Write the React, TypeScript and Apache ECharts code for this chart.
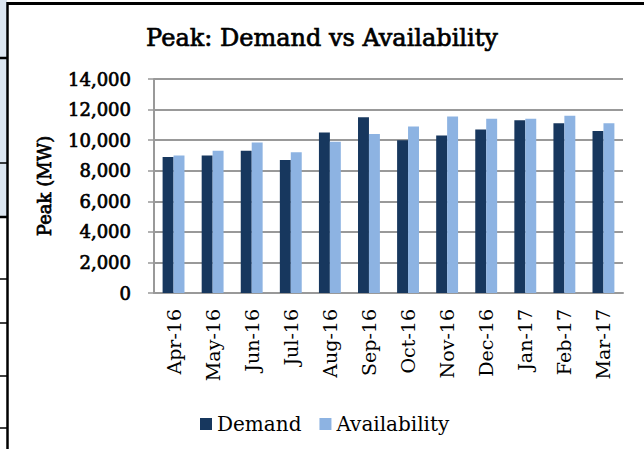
import React, { useEffect, useRef } from "react";
import * as echarts from "echarts";

const categories = ["Apr-16", "May-16", "Jun-16", "Jul-16", "Aug-16", "Sep-16", "Oct-16", "Nov-16", "Dec-16", "Jan-17", "Feb-17", "Mar-17"];
const demand = [8900, 9000, 9300, 8700, 10500, 11500, 10000, 10300, 10700, 11300, 11100, 10600];
const availability = [9000, 9300, 9850, 9200, 9900, 10400, 10900, 11550, 11400, 11400, 11600, 11100];
const yTicks = { min: 0, max: 14000, interval: 2000 };

const FONT = "DejaVu Serif";
const fauxBold = { textBorderColor: "#000", textBorderWidth: 0.7 };

export default function App() {
  const ref = useRef<HTMLDivElement>(null);
  useEffect(() => {
    const chart = echarts.init(ref.current!, null, { renderer: "svg" });
    const sideLines = [58, 163, 217, 279, 323, 376, 428];
    chart.setOption({
      animation: false,
      backgroundColor: "#ffffff",
      title: {
        text: "Peak: Demand vs Availability",
        left: "center",
        top: 21,
        textStyle: { fontFamily: FONT, fontWeight: "normal", fontSize: 24, color: "#000", ...fauxBold },
      },
      legend: {
        data: ["Demand", "Availability"],
        left: 195,
        top: 409,
        itemWidth: 12,
        itemHeight: 12,
        itemGap: 18,
        icon: "rect",
        textStyle: { fontFamily: FONT, fontSize: 20, color: "#000" },
      },
      grid: { left: 154, right: 21, top: 79, bottom: 156, containLabel: false },
      xAxis: {
        type: "category",
        data: categories,
        axisLine: { lineStyle: { color: "#999", width: 2 } },
        axisTick: { show: false },
        axisLabel: { rotate: 90, margin: 16, fontFamily: FONT, fontSize: 19, color: "#000" },
      },
      yAxis: {
        type: "value",
        min: yTicks.min,
        max: yTicks.max,
        interval: yTicks.interval,
        name: "Peak (MW)",
        nameLocation: "middle",
        nameRotate: 90,
        nameGap: 101,
        nameTextStyle: { fontFamily: FONT, fontWeight: "normal", fontSize: 18, color: "#000", ...fauxBold },
        axisLine: { show: true, lineStyle: { color: "#999", width: 2 } },
        axisTick: { show: true, length: 6, lineStyle: { color: "#999", width: 1.5 } },
        axisLabel: {
          margin: 23,
          fontFamily: FONT,
          fontWeight: "normal",
          fontSize: 18,
          color: "#000",
          ...fauxBold,
          formatter: (v: number) => v.toLocaleString("en-US"),
        },
        splitLine: { lineStyle: { color: "#999", width: 2 } },
      },
      series: [
        {
          name: "Demand",
          type: "bar",
          data: demand,
          barGap: "0%",
          barCategoryGap: "44%",
          itemStyle: { color: "#17375e" },
        },
        {
          name: "Availability",
          type: "bar",
          data: availability,
          itemStyle: { color: "#8db3e2" },
        },
      ],
      graphic: [
        { type: "rect", shape: { x: 0, y: 0, width: 7, height: 217 }, style: { fill: "#dce6f1" }, z: 100 },
        ...sideLines.map((y, i) => ({
          type: "line",
          shape: { x1: 0, y1: y, x2: 7, y2: y },
          style: { stroke: "#000", lineWidth: i === 0 || i === 2 ? 2.5 : 1.5 },
          z: 101,
        })),
        { type: "line", shape: { x1: 7, y1: 3.5, x2: 644, y2: 3.5 }, style: { stroke: "#000", lineWidth: 3 }, z: 102 },
        { type: "line", shape: { x1: 7.5, y1: 2, x2: 7.5, y2: 449 }, style: { stroke: "#000", lineWidth: 2.5 }, z: 102 },
      ],
    });
    return () => chart.dispose();
  }, []);
  return <div ref={ref} style={{ position: "fixed", left: 0, top: 0, width: 644, height: 449 }} />;
}
